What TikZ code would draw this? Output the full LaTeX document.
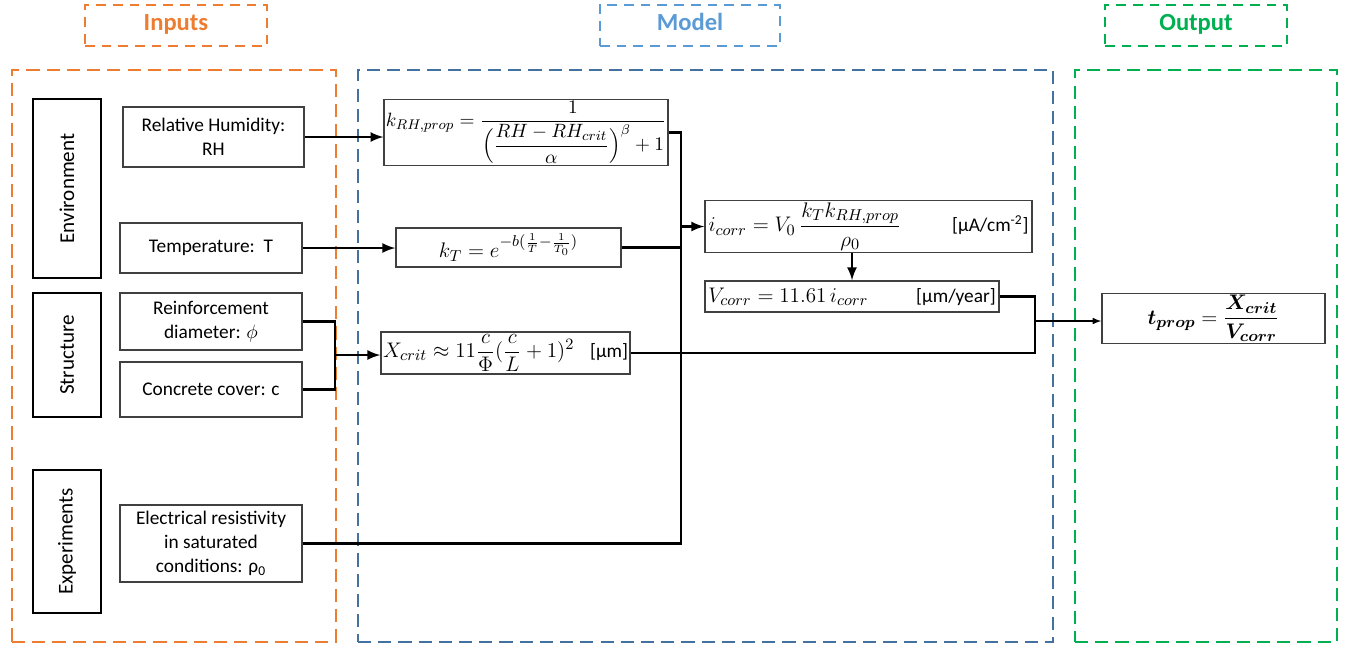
\documentclass[tikz,border=0pt]{standalone}
\usepackage{fontspec}
\setmainfont{Carlito}
\usepackage{amsmath}
\usepackage{graphicx}
\usepackage{tikz}
\usetikzlibrary{positioning}
\usepackage{xcolor}
\definecolor{inorange}{RGB}{237,125,49}
\definecolor{modblue}{RGB}{91,155,213}
\definecolor{modframe}{RGB}{68,114,160}
\definecolor{outgreen}{RGB}{0,176,80}
\newcommand{\unittxt}[1]{{\fontsize{11}{13}\selectfont #1}}

\tikzset{
	sz/.style 2 args={minimum width=#1*0.2mm, minimum height=#2*0.2mm},
	ttl/.style={draw, line width=1.6pt, dash pattern=on 5.5pt off 4pt, inner sep=0pt, text height=1.6ex, text depth=0.4ex, font=\fontsize{14}{16}\selectfont\bfseries},
	frame/.style={draw, line width=1.6pt, dash pattern=on 7.5pt off 4pt, inner sep=0pt},
	catbox/.style={draw, line width=1.6pt, inner sep=0pt, font=\fontsize{12}{14}\selectfont},
	inbox/.style={draw=black!75, line width=0.8pt, inner sep=1pt, align=center, font=\fontsize{11}{13.5}\selectfont},
	eqbox/.style={draw=black!75, line width=0.8pt, inner sep=1pt, font=\fontsize{12.5}{14}\selectfont},
	wire/.style={line width=1.5pt},
}

\begin{document}
\begin{tikzpicture}[x=0.2mm, y=-0.2mm]
			\useasboundingbox (0,0) rectangle (1346,647);
			%Frames
			\node[frame, draw=inorange, sz={324}{572}] (frmIn) at (174,356) {};
			\node[frame, draw=modframe, sz={695}{572}] (frmMod) at (705.5,356) {};
			\node[frame, draw=outgreen, sz={262}{572}] (frmOut) at (1206,356) {};
			%Titles
			\node[ttl, draw=inorange, text=inorange, sz={182}{41}] (ttlIn) at (176,25.5) {Inputs};
			\node[ttl, draw=modblue, text=modblue, sz={180}{41}] (ttlMod) at (690,25.5) {Model};
			\node[ttl, draw=outgreen, text=outgreen, sz={182}{41}] (ttlOut) at (1196,25.5) {Output};
			%Categories
			\node[catbox, sz={68}{179}] (catEnv) at (67,188.5) {\rotatebox{90}{Environment}};
			\node[catbox, sz={68}{124}] (catStr) at (67,355) {\rotatebox{90}{Structure}};
			\node[catbox, sz={68}{143}] (catExp) at (67,541.5) {\rotatebox{90}{Experiments}};
			%Inputs
			\node[inbox, sz={181}{60}] (inRH) at (213.5,137) {Relative Humidity:\\RH};
			\node[inbox, sz={182}{50}] (inT) at (211,248) {Temperature:\ \ T};
			\node[inbox, sz={182}{57}] (inPhi) at (211,321.5) {Reinforcement\\diameter: $\phi$};
			\node[inbox, sz={182}{55}] (inC) at (211,389.5) {Concrete cover: c};
			\node[inbox, sz={182}{77}] (inRho) at (211,543.5) {Electrical resistivity\\in saturated\\conditions: ρ\textsubscript{0}};
			%Model
			\node[eqbox, sz={268}{65}, font=\fontsize{11}{13}\selectfont] (eqKRH) at (526,132.5)
				{$k_{RH,prop}=\dfrac{1}{\Bigl(\dfrac{RH-RH_{crit}}{\alpha}\Bigr)^{\beta}+1}$};
			\node[eqbox, sz={225}{39}] (eqKT) at (508.5,247.5)
				{$k_T=e^{-b(\frac{1}{T}-\frac{1}{T_0})}$};
			\node[eqbox, sz={249}{42}, text width=4.9cm] (eqX) at (505.5,353)
				{$X_{crit}\approx 11\dfrac{c}{\Phi}(\dfrac{c}{L}+1)^2$\hfill\unittxt{[µm]}};
			\node[eqbox, sz={327}{43}, text width=6.4cm] (eqI) at (868.5,226.5)
				{$i_{corr}=V_0\,\dfrac{k_Tk_{RH,prop}}{\rho_0}$\hfill\unittxt{[µA/cm\textsuperscript{-2}]}\hspace{0.4cm}};
			\node[eqbox, sz={294}{31}, text width=5.75cm] (eqV) at (852,296.5)
				{$V_{corr}=11.61\,i_{corr}$\hfill\unittxt{[µm/year]}\hspace{0.1cm}};
			%Output
			\node[eqbox, sz={223}{47}] (eqTP) at (1213.5,318.5)
				{$\boldsymbol{t_{prop}}=\dfrac{\boldsymbol{X_{crit}}}{\boldsymbol{V_{corr}}}$};
			%Junctions
			\coordinate (jX) at (335,355);
			\coordinate (jI) at (681,226.5);
			\coordinate (jT) at (1035,321);
			%Connectors
			\draw[wire,-latex] (inRH.east) -- (inRH.east -| eqKRH.west);
			\draw[wire,-latex] (inT.east) -- (inT.east -| eqKT.west);
			\draw[wire] (inPhi.east) -| (inC.east -| jX) -- (inC.east);
			\draw[wire,-latex] (jX) -- (jX -| eqX.west);
			\draw[wire] (eqKRH.east) -| (inRho.east -| jI) -- (inRho.east);
			\draw[wire] (eqKT.east) -- (eqKT.east -| jI);
			\draw[wire,-latex] (jI) -- (eqI.west);
			\draw[wire,-latex] (eqV.north |- eqI.south) -- (eqV.north);
			\draw[wire] (eqV.east) -| (eqX.east -| jT) -- (eqX.east);
			\draw[line width=0.7pt,-latex] (jT) -- (jT -| eqTP.west);
		\end{tikzpicture}
\end{document}
